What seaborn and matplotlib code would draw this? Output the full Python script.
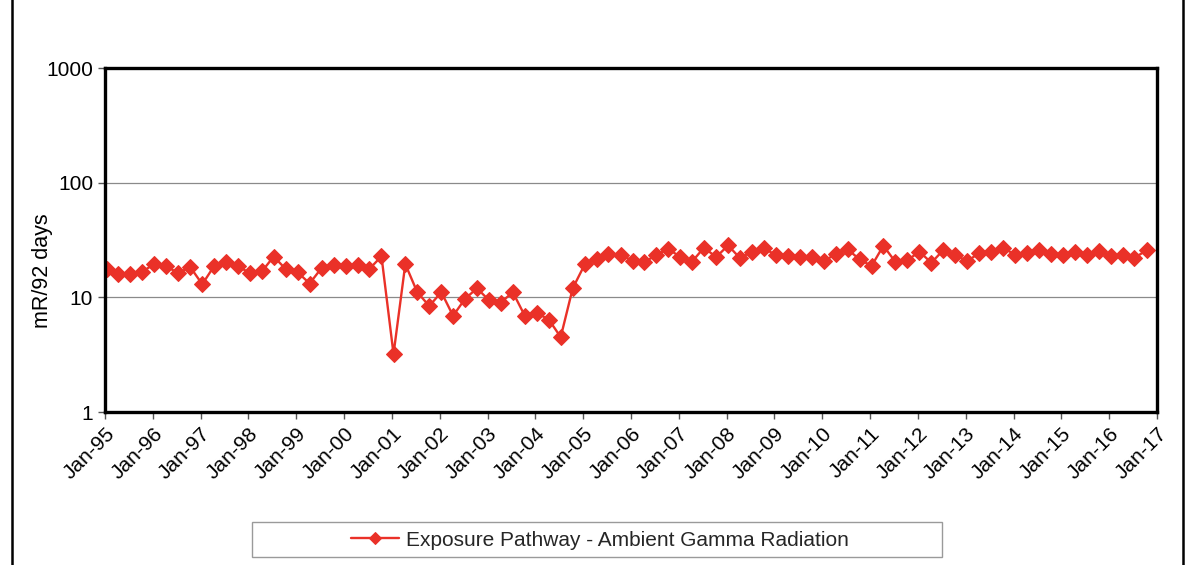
import pandas as pd
import matplotlib
matplotlib.use("Agg")
import matplotlib.pyplot as plt
import matplotlib.dates as mdates
from matplotlib.patches import Rectangle
from matplotlib.ticker import FixedLocator, FixedFormatter, NullLocator
import seaborn as sns

# Значения по кварталам, 1995 Q1 - 2016 Q4
values = [
    17.5, 16.0, 16.1, 16.7, 19.6, 18.6, 16.3, 18.4,
    13.0, 18.7, 20.4, 18.6, 16.3, 16.8, 22.7, 17.6,
    16.5, 13.2, 18.0, 19.1, 18.6, 19.1, 17.7, 22.8,
    3.2, 19.5, 11.1, 8.4, 11.1, 6.9, 9.7, 12.0,
    9.4, 9.0, 11.1, 6.9, 7.3, 6.4, 4.5, 12.0,
    19.4, 21.8, 24.0, 23.6, 20.8, 20.2, 23.5, 26.4,
    22.5, 20.5, 27.2, 22.4, 28.4, 21.9, 25.1, 26.8,
    23.3, 23.1, 22.7, 22.3, 20.7, 23.8, 26.3, 21.4,
    18.8, 28.2, 20.4, 21.0, 25.1, 20.0, 25.8, 23.5,
    20.6, 24.4, 25.1, 27.1, 23.5, 24.4, 26.1, 24.0,
    23.2, 25.1, 23.5, 25.6, 22.9, 23.3, 22.1, 25.7,
]
dates = pd.date_range("1995-01-01", periods=len(values), freq="QS") + pd.Timedelta(days=12)
y_ticks = [1, 10, 100, 1000]
y_tick_labels = ["1", "10", "100", "1000"]
series_name = "Exposure Pathway - Ambient Gamma Radiation"
y_label = "mR/92 days"

df = pd.DataFrame({"date": dates, "value": values})

sns.set_style("white")
plt.rcParams["font.family"] = ["Liberation Sans", "DejaVu Sans"]

RED = "#EA3128"
W, H = 1191, 565

fig = plt.figure(figsize=(W / 100, H / 100), dpi=100)
ax = fig.add_axes([105 / W, 1 - 412 / H, 1052 / W, 344 / H])

sns.lineplot(data=df, x="date", y="value", ax=ax, color=RED, marker="D",
             markersize=8, markeredgecolor=RED, linewidth=1.7, label=series_name)

ax.set_yscale("log")
ax.set_ylim(1, 1000)
ax.set_xlim(pd.Timestamp("1995-01-01"), pd.Timestamp("2017-01-01"))
ax.yaxis.set_major_locator(FixedLocator(y_ticks))
ax.yaxis.set_major_formatter(FixedFormatter(y_tick_labels))
ax.yaxis.set_minor_locator(NullLocator())
ax.xaxis.set_major_locator(mdates.YearLocator())
ax.xaxis.set_major_formatter(mdates.DateFormatter("%b-%y"))

ax.grid(axis="y", color="#8a8a8a", linewidth=0.9)
ax.grid(axis="x", visible=False)
for s in ax.spines.values():
    s.set_color("black")
    s.set_linewidth(2.4)

ax.tick_params(axis="both", direction="out", length=5, width=1, color="#555555",
               labelsize=15, labelcolor="black", left=True, bottom=True)
plt.setp(ax.get_xticklabels(), rotation=45, ha="right", rotation_mode="anchor")

ax.set_xlabel("")
ax.set_ylabel(y_label, fontsize=15.5, color="black")
ax.yaxis.set_label_coords(-0.049, 0.41)

# Легенда внизу в отдельной рамке
ax.legend_.remove()
handles, labels = ax.get_legend_handles_labels()
fig.legend(handles, labels, loc="center", bbox_to_anchor=(600 / W, 1 - 540 / H),
           frameon=False, fontsize=15, handlelength=2.3, handletextpad=0.3,
           markerscale=0.75)
fig.patches.append(Rectangle((252 / W, 1 - 557 / H), 690 / W, 35 / H,
                             transform=fig.transFigure, fill=False,
                             edgecolor="#9a9a9a", linewidth=1))
# Внешняя рамка (верх за пределами кадра)
fig.patches.append(Rectangle((12 / W, -0.05), 1171 / W, 1.2,
                             transform=fig.transFigure, fill=False,
                             edgecolor="black", linewidth=1.8))

fig.savefig("out.png", dpi=100, facecolor="white")
